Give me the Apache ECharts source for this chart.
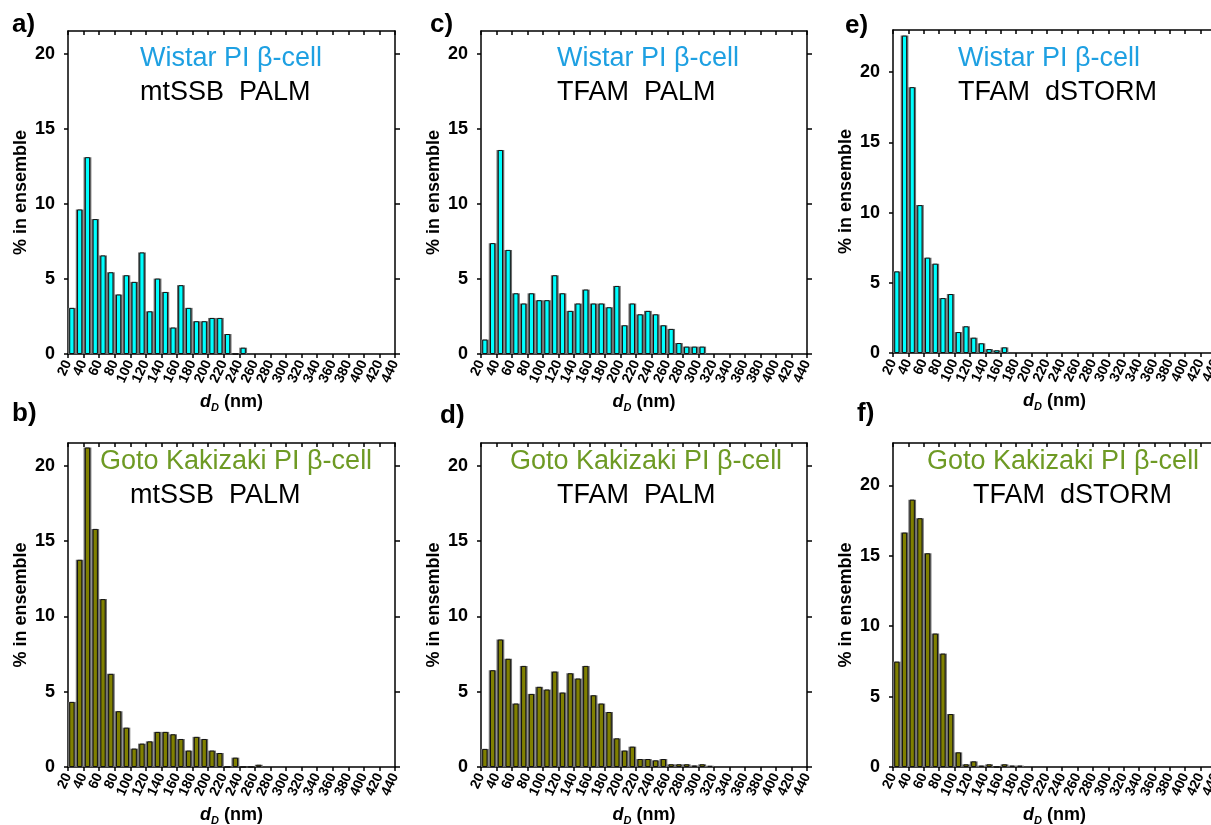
<!DOCTYPE html>
<html><head><meta charset="utf-8">
<script src="https://cdn.jsdelivr.net/npm/echarts@6/dist/echarts.min.js"></script>
<style>html,body{margin:0;padding:0;overflow:hidden;background:#fff}#c{width:1232px;height:825px}</style>
</head><body><div id="c"></div>
<script>
// ---------- data ----------
const binWidth = 10;                    // nm, histogram bin width
const xMin = 20, xMax = 440;            // nm
const yTicks = [0, 5, 10, 15, 20];
const panelLetters = ['a)', 'b)', 'c)', 'd)', 'e)', 'f)'];
const cellLines = ['Wistar PI \u03b2-cell', 'Goto Kakizaki PI \u03b2-cell', 'Wistar PI \u03b2-cell',
                   'Goto Kakizaki PI \u03b2-cell', 'Wistar PI \u03b2-cell', 'Goto Kakizaki PI \u03b2-cell'];
const methodLines = ['mtSSB  PALM', 'mtSSB  PALM', 'TFAM  PALM', 'TFAM  PALM', 'TFAM  dSTORM', 'TFAM  dSTORM'];
const yAxisName = '% in ensemble';

// % in ensemble per 10-nm bin, first bin = 20-30 nm
const wistarMtssbPalm = [3.07, 9.62, 13.1, 8.98, 6.56, 5.44, 3.96, 5.24, 4.8, 6.76, 2.84, 5.02, 4.13, 1.76, 4.58, 3.07, 2.18, 2.18, 2.4, 2.4, 1.33, 0, 0.42];
const gkMtssbPalm = [4.32, 13.75, 21.2, 15.8, 11.14, 6.18, 3.7, 2.61, 1.22, 1.55, 1.7, 2.33, 2.33, 2.17, 1.86, 1.09, 2.0, 1.86, 1.09, 0.93, 0, 0.62, 0, 0, 0.15];
const wistarTfamPalm = [0.96, 7.38, 13.58, 6.93, 4.04, 3.36, 4.04, 3.58, 3.58, 5.24, 4.04, 2.87, 3.36, 4.29, 3.36, 3.36, 3.11, 4.53, 1.91, 3.36, 2.64, 2.87, 2.64, 1.91, 1.67, 0.73, 0.49, 0.49, 0.49];
const gkTfamPalm = [1.2, 6.42, 8.46, 7.18, 4.21, 6.71, 4.85, 5.32, 5.14, 6.33, 4.94, 6.22, 5.87, 6.71, 4.76, 4.21, 3.65, 1.9, 1.09, 1.35, 0.53, 0.53, 0.44, 0.53, 0.18, 0.18, 0.18, 0.1, 0.18, 0.08];
const wistarTfamDstorm = [5.81, 22.6, 18.93, 10.53, 6.79, 6.36, 3.91, 4.2, 1.49, 1.9, 1.09, 0.69, 0.28, 0.19, 0.4];
const gkTfamDstorm = [7.48, 16.64, 18.98, 17.66, 15.17, 9.47, 8.05, 3.76, 1.04, 0.19, 0.4, 0.1, 0.19, 0, 0.19, 0.1, 0.1];

const panelData = [wistarMtssbPalm, gkMtssbPalm, wistarTfamPalm, gkTfamPalm, wistarTfamDstorm, gkTfamDstorm];

// ---------- layout / style ----------
const FONT = '"Liberation Sans", Arial, Helvetica, sans-serif';
const WISTAR_TXT = '#1ea0e2', GK_TXT = '#6e9a24';
const WISTAR_BAR = '#00ffff', GK_BAR = '#808000';
const grids = [
  {left: 68,  top: 31,  width: 327, height: 323, ymax: 21.5},
  {left: 68,  top: 443, width: 327, height: 324, ymax: 21.5},
  {left: 481, top: 31,  width: 326, height: 323, ymax: 21.5},
  {left: 481, top: 443, width: 326, height: 324, ymax: 21.5},
  {left: 893, top: 30,  width: 323, height: 323, ymax: 23},
  {left: 893, top: 443, width: 323, height: 324, ymax: 23}
];
const titlePos = [
  {x1: 140, y1: 59, x2: 140, y2: 93},
  {x1: 100, y1: 462, x2: 130, y2: 496},
  {x1: 557, y1: 59, x2: 557, y2: 93},
  {x1: 510, y1: 462, x2: 557, y2: 496},
  {x1: 958, y1: 59, x2: 958, y2: 93},
  {x1: 927, y1: 462, x2: 973, y2: 496}
];
const letterPos = [[12, 25], [12, 414], [430, 25], [440, 416], [845, 26], [857, 414]];

const lineStyle = {color: '#000', width: 1.5};
const option = {
  animation: false,
  backgroundColor: '#fff',
  textStyle: {fontFamily: FONT},
  grid: [], xAxis: [], yAxis: [], series: [], graphic: []
};

panelData.forEach((vals, p) => {
  const g = grids[p];
  const isGK = p % 2 === 1;
  option.grid.push({left: g.left, top: g.top, width: g.width, height: g.height,
                    containLabel: false, outerBoundsMode: 'none'});
  // bottom x axis
  option.xAxis.push({
    type: 'value', gridIndex: p, position: 'bottom', min: xMin, max: xMax, interval: 20,
    axisLine: {show: true, onZero: false, lineStyle},
    axisTick: {show: true, inside: false, length: 4, lineStyle},
    axisLabel: {show: true, rotate: 65, margin: 7, color: '#000', fontWeight: 'bold', fontSize: 14, fontFamily: FONT},
    splitLine: {show: false},
    name: '{i|d}{s|D}{n| (nm)}', nameLocation: 'middle', nameGap: 38, nameMoveOverlap: false,
    nameTextStyle: {
      rich: {
        i: {fontStyle: 'italic', fontWeight: 'bold', fontSize: 18, fontFamily: FONT, color: '#000'},
        s: {fontStyle: 'italic', fontWeight: 'bold', fontSize: 11, fontFamily: FONT, color: '#000', padding: [10, 0, 0, 0]},
        n: {fontWeight: 'bold', fontSize: 18, fontFamily: FONT, color: '#000'}
      }
    }
  });
  // top x axis (frame + inward ticks), also hosts the grey gap bars
  option.xAxis.push({
    type: 'value', gridIndex: p, position: 'top', min: xMin, max: xMax, interval: 20,
    axisLine: {show: true, onZero: false, lineStyle},
    axisTick: {show: true, inside: true, length: 4, lineStyle},
    axisLabel: {show: false}, splitLine: {show: false}
  });
  option.yAxis.push({
    type: 'value', gridIndex: p, position: 'left', min: 0, max: g.ymax, interval: 5,
    axisLine: {show: true, onZero: false, lineStyle},
    axisTick: {show: true, inside: false, length: 4, lineStyle, customValues: yTicks},
    axisLabel: {show: true, margin: 13, color: '#000', fontWeight: 'bold', fontSize: 18, fontFamily: FONT, customValues: yTicks},
    splitLine: {show: false},
    name: yAxisName, nameLocation: 'middle', nameGap: 38, nameMoveOverlap: false,
    nameTextStyle: {color: '#000', fontWeight: 'bold', fontSize: 18, fontFamily: FONT}
  });
  option.yAxis.push({
    type: 'value', gridIndex: p, position: 'right', min: 0, max: g.ymax, interval: 5,
    axisLine: {show: true, onZero: false, lineStyle},
    axisTick: {show: true, inside: false, length: 5, lineStyle, customValues: yTicks},
    axisLabel: {show: false}, splitLine: {show: false}
  });
  const pts = vals.map((v, i) => [xMin + binWidth * i + binWidth / 2, v]);
  option.series.push({
    type: 'bar', xAxisIndex: 2 * p + 1, yAxisIndex: 2 * p, data: pts, barWidth: '100%', silent: true,
    itemStyle: {color: '#6e6e6e'}
  });
  option.series.push({
    type: 'bar', xAxisIndex: 2 * p, yAxisIndex: 2 * p, data: pts, barWidth: '68%', silent: true,
    itemStyle: {color: isGK ? GK_BAR : WISTAR_BAR, borderColor: '#111', borderWidth: 1}
  });
  const t = titlePos[p];
  option.graphic.push({type: 'text', x: t.x1, y: t.y1, z: 100, style: {
    text: cellLines[p], fill: isGK ? GK_TXT : WISTAR_TXT, font: '27px ' + FONT, textAlign: 'left', textVerticalAlign: 'middle'}});
  option.graphic.push({type: 'text', x: t.x2, y: t.y2, z: 100, style: {
    text: methodLines[p], fill: '#000', font: '27px ' + FONT, textAlign: 'left', textVerticalAlign: 'middle'}});
  option.graphic.push({type: 'text', x: letterPos[p][0], y: letterPos[p][1], z: 100, style: {
    text: panelLetters[p], fill: '#000', font: 'bold 26px ' + FONT, textAlign: 'left', textVerticalAlign: 'middle'}});
});

const chart = echarts.init(document.getElementById('c'), null, {renderer: 'canvas'});
chart.setOption(option);
</script></body></html>
